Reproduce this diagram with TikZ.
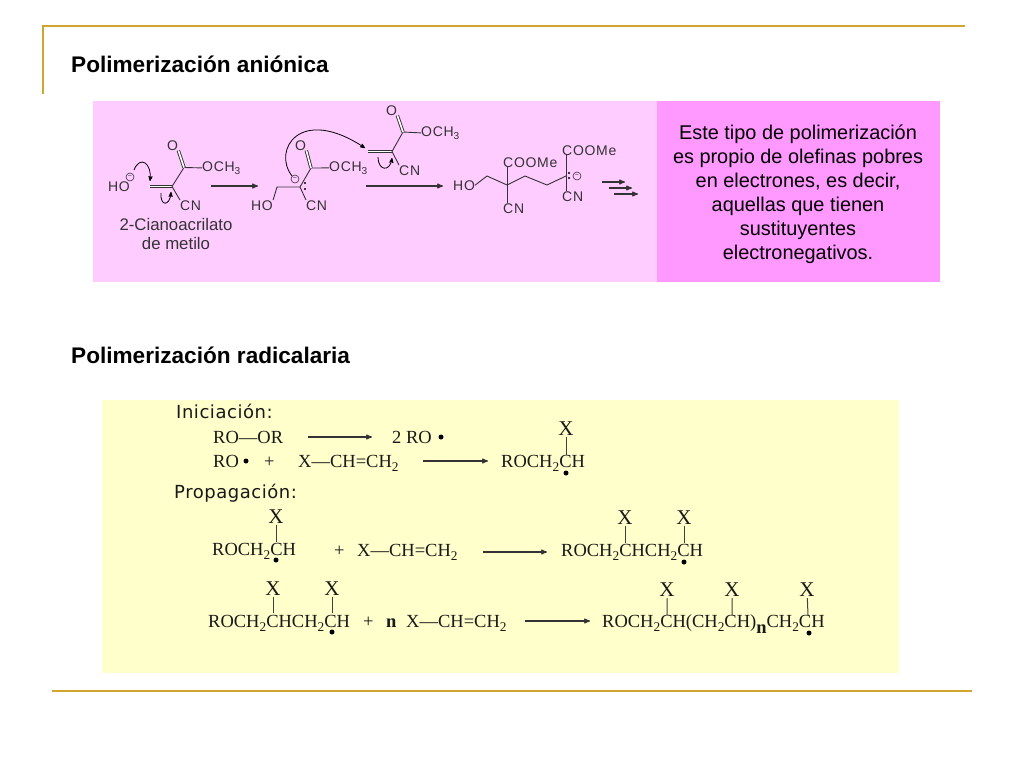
\documentclass[tikz,border=0pt]{standalone}
\usepackage{fontspec}
\setmainfont{Liberation Sans}
\newfontfamily\chemserif{Liberation Serif}
\newfontfamily\chemwide[LetterSpace=5]{Liberation Sans}
\newfontfamily\stagefont[LetterSpace=3]{DejaVu Sans}
\usetikzlibrary{positioning,arrows,shapes.geometric}
\newcommand{\subtwo}[1]{\raisebox{-.25em}{\scalebox{.72}{#1}}}
\definecolor{goldline}{HTML}{CFA52E}
\definecolor{pinkpanel}{HTML}{FFCCFF}
\definecolor{pinkside}{HTML}{FF99FF}
\definecolor{yellowpanel}{HTML}{FFFFCC}
\definecolor{chemgray}{HTML}{333333}
\tikzset{
>=stealth',
title/.style={font=\bfseries\fontsize{22.6}{26}\selectfont, anchor=base west, inner sep=0},
side/.style={font=\fontsize{19.9}{24}\selectfont, align=center, inner sep=0},
wide/.style={font=\chemwide\fontsize{14}{16}\selectfont, text=chemgray, anchor=base west, inner sep=0},
caption/.style={font=\fontsize{16.8}{19}\selectfont, text=chemgray, align=center, inner sep=0},
serif/.style={font=\chemserif\fontsize{18.5}{20}\selectfont, text=black!90, anchor=base west, inner sep=0},
subst/.style={font=\chemserif\fontsize{21}{22}\selectfont, text=black!90, inner sep=1pt},
stage/.style={font=\stagefont\fontsize{18}{20}\selectfont, text=black!90, anchor=base west, inner sep=0},
bond/.style={-, draw=chemgray, line width=.9pt},
longbond/.style={-, draw=black!75, line width=1pt},
react/.style={->, draw=chemgray, line width=1.1pt},
radical/.style={circle, fill=black, inner sep=0, minimum size=5pt},
pair/.style={circle, fill=black, inner sep=0, minimum size=2.2pt},
charge/.style={circle, draw=chemgray, line width=.6pt, inner sep=0, minimum size=8pt, font=\fontsize{7}{7}\selectfont, text=chemgray},
}
\begin{document}
\begin{tikzpicture}[x=1pt,y=-1pt]
\useasboundingbox (0,0) rectangle (1024,768);
\fill[white] (0,0) rectangle (1024,768);
% frame
\draw[goldline, line width=2pt] (43,94) -- (43,26) -- (965,26);
\draw[goldline, line width=2pt] (52,691) -- (972,691);
\fill[pinkpanel] (93,101) rectangle (657,282);
\fill[pinkside] (657,101) rectangle (940,282);
\fill[yellowpanel] (102,400) rectangle (899,673);
\node[title] at (71,72) (anionica) {Polimerización aniónica};
\node[title] at (71,363) (radicalaria) {Polimerización radicalaria};
\node[side] at (798,194.5) (nota) {Este tipo de polimerización\\es propio de olefinas pobres\\en electrones, es decir,\\aquellas que tienen\\sustituyentes\\electronegativos.};
% monomer
\node[wide] at (108,191) (ho1) {HO};
\node[charge] at (130,177) (neg1) {−};
\coordinate (a1) at (150,186.5);
\coordinate (a2) at (172,186.5);
\coordinate (a3) at (184,167.5);
\node[wide] at (167,150) (o1) {O};
\node[wide] at (202,171) (och1) {OCH\subtwo{3}};
\node[wide] at (180,210) (cn1) {CN};
\node[caption] at (176,233.5) (nombre) {2-Cianoacrilato\\de metilo};
\draw[bond, double, double distance=1.6pt] (a1) -- (a2);
\draw[bond] (a2) -- (a3) -- (och1.west) (a2) -- (cn1.north west);
\draw[bond, double, double distance=1.6pt] (a3) -- (o1.south east);
\coordinate (b1) at (134,170);
\coordinate (b2) at (150,181);
\coordinate (b3) at (171,192);
\coordinate (b4) at (161,193);
\draw[->, draw=black, line width=.8pt] (b1) .. controls (140,155) and (152,163) .. (b2);
\draw[->, draw=black, line width=.8pt] (b4) .. controls (160,207) and (170,206) .. (b3);
\coordinate (r1s) at (211,186);
\coordinate (r1e) at (258,186);
\draw[react] (r1s) -- (r1e);
% anion
\node[wide] at (251,210) (ho2) {HO};
\coordinate (d1) at (277,187);
\coordinate (d2) at (300,187);
\coordinate (d3) at (311,168);
\node[wide] at (295,150) (o2) {O};
\node[wide] at (329,171) (och2) {OCH\subtwo{3}};
\node[wide] at (306,210) (cn2) {CN};
\node[charge] at (295,179) (neg2) {−};
\node[pair] at (305,183) (p1) {};
\node[pair] at (305,189) (p2) {};
\draw[bond] (ho2.north east) -- (d1) -- (d2) -- (d3) -- (och2.west) (d2) -- (cn2.north west);
\draw[bond, double, double distance=1.6pt] (d3) -- (o2.south east);
\coordinate (e1) at (365,148);
\draw[->, draw=black, line width=.8pt] (neg2.north west) .. controls (272,150) and (300,105) .. (e1);
% second monomer
\coordinate (f1) at (368,151.5);
\coordinate (f2) at (392,151.5);
\coordinate (f3) at (403,132);
\node[wide] at (386,115) (o3) {O};
\node[wide] at (421,136) (och3) {OCH\subtwo{3}};
\node[wide] at (399,175) (cn3) {CN};
\draw[bond, double, double distance=1.6pt] (f1) -- (f2);
\draw[bond] (f2) -- (f3) -- (och3.west) (f2) -- (cn3.north west);
\draw[bond, double, double distance=1.6pt] (f3) -- (o3.south east);
\coordinate (g1) at (378,157);
\coordinate (g2) at (392,158);
\draw[->, draw=black, line width=.8pt] (g1) .. controls (378,171) and (390,172) .. (g2);
\coordinate (r2s) at (366,186);
\coordinate (r2e) at (443,186);
\draw[react] (r2s) -- (r2e);
% dimer
\node[wide] at (453,190) (ho4) {HO};
\coordinate (h1) at (487,176);
\coordinate (h2) at (507,185);
\coordinate (h3) at (525,176);
\coordinate (h4) at (547,185);
\coordinate (h5) at (566,176);
\node[wide] at (503,167) (coo1) {COOMe};
\node[wide] at (503,213) (cn4) {CN};
\node[wide] at (562,155) (coo2) {COOMe};
\node[wide] at (562,201) (cn5) {CN};
\node[pair] at (569,173) (p3) {};
\node[pair] at (569,178) (p4) {};
\node[charge] at (577,176) (neg3) {−};
\draw[bond] (ho4.east) -- (h1) -- (h2) -- (h3) -- (h4) -- (h5);
\draw[bond] (h2 |- coo1.south) -- (h2 |- cn4.north);
\draw[bond] (h5 |- coo2.south) -- (h5 |- cn5.north);
\coordinate (s1) at (602,182);
\coordinate (s2) at (625,182);
\coordinate (s3) at (609,188);
\coordinate (s4) at (632,188);
\coordinate (s5) at (614,194);
\coordinate (s6) at (638,194);
\draw[react] (s1) -- (s2);
\draw[react] (s3) -- (s4);
\draw[react] (s5) -- (s6);
% iniciacion
\node[stage] at (176,418) (inic) {Iniciación:};
\node[serif] at (213,443) (roor) {RO—OR};
\coordinate (t1) at (308,437);
\coordinate (t2) at (372,437);
\draw[react] (t1) -- (t2);
\node[serif] at (392,443) (dosro) {2 RO};
\node[radical] at (441,437) (dot0) {};
\node[serif] at (213,467) (ro) {RO};
\node[radical] at (246,461) (dot1) {};
\node[serif] at (264,467) (mas1) {+};
\node[serif] at (298,467) (mono1) {X—CH=CH\subtwo{2}};
\coordinate (t3) at (423,461);
\coordinate (t4) at (488,461);
\draw[react] (t3) -- (t4);
\node[serif] at (501,467) (prod1) {ROCH\subtwo{2}CH};
\node[subst] at (566,429) (x1) {X};
\node[radical] at (566,473) (dot2) {};
\coordinate (u1) at (566,455);
\draw[longbond] (x1) -- (u1);
% propagacion
\node[stage] at (174,498) (prop) {Propagación:};
\node[serif] at (212,555) (prod2) {ROCH\subtwo{2}CH};
\node[subst] at (276,517) (x2) {X};
\node[radical] at (276,560) (dot3) {};
\coordinate (u2) at (276,542);
\draw[longbond] (x2) -- (u2);
\node[serif] at (334,556) (mas2) {+};
\node[serif] at (357,556) (mono2) {X—CH=CH\subtwo{2}};
\coordinate (t5) at (483,552);
\coordinate (t6) at (547,552);
\draw[react] (t5) -- (t6);
\node[serif] at (561,556) (prod3) {ROCH\subtwo{2}CHCH\subtwo{2}CH};
\node[subst] at (625,518) (x3) {X};
\node[subst] at (684,518) (x4) {X};
\node[radical] at (684,562) (dot4) {};
\coordinate (u3) at (625,543);
\coordinate (u4) at (684,543);
\draw[longbond] (x3) -- (u3) (x4) -- (u4);
% tercera linea
\node[serif] at (208,627) (prod4) {ROCH\subtwo{2}CHCH\subtwo{2}CH};
\node[subst] at (273,589) (x5) {X};
\node[subst] at (332,589) (x6) {X};
\node[radical] at (332,632) (dot5) {};
\coordinate (u5) at (273,613);
\coordinate (u6) at (332,613);
\draw[longbond] (x5) -- (u5) (x6) -- (u6);
\node[serif] at (363,627) (mas3) {+};
\node[serif] at (386,627) (ene) {\bfseries n};
\node[serif] at (406,627) (mono3) {X—CH=CH\subtwo{2}};
\coordinate (t7) at (525,621);
\coordinate (t8) at (590,621);
\draw[react] (t7) -- (t8);
\node[serif] at (602,627) (prod5) {ROCH\subtwo{2}CH(CH\subtwo{2}CH)\raisebox{-.35em}{\bfseries n}CH\subtwo{2}CH};
\node[subst] at (667,590) (x7) {X};
\node[subst] at (732,590) (x8) {X};
\node[subst] at (807,590) (x9) {X};
\node[radical] at (809,633) (dot6) {};
\coordinate (u7) at (667,615);
\coordinate (u8) at (732,615);
\coordinate (u9) at (808,615);
\draw[longbond] (x7) -- (u7) (x8) -- (u8) (x9) -- (u9);
\end{tikzpicture}
\end{document}
